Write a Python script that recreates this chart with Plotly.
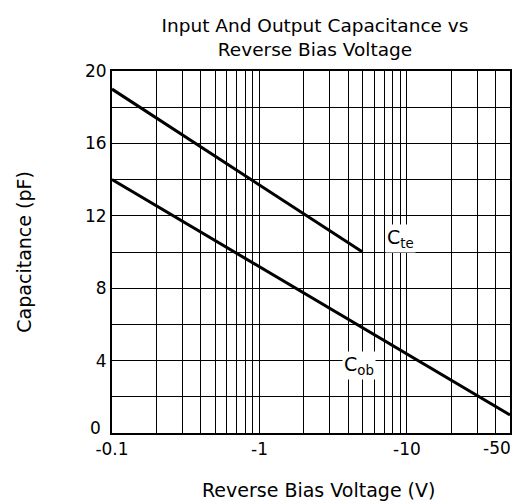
import math
import plotly.graph_objects as go

# ---- data ----
voltage_cte = [0.1, 5]          # |reverse bias| in V
cap_cte = [19, 10]              # pF
voltage_cob = [0.1, 50]
cap_cob = [14, 1]

x_tick_vals = [0.1, 1, 10, 50]
x_tick_text = ["-0.1", "-1", "-10", "-50"]
x_minor_vals = [0.2, 0.3, 0.4, 0.5, 0.6, 0.7, 0.8, 0.9,
                2, 3, 4, 5, 6, 7, 8, 9,
                20, 30, 40]
y_tick_vals = [0, 4, 8, 12, 16, 20]
y_tick_text = ["0", "4", "8", "12", "16", "20"]

FONT = "DejaVu Sans"

fig = go.Figure()
fig.add_trace(go.Scatter(x=voltage_cte, y=cap_cte, mode="lines",
                         line=dict(color="black", width=3), showlegend=False))
fig.add_trace(go.Scatter(x=voltage_cob, y=cap_cob, mode="lines",
                         line=dict(color="black", width=3), showlegend=False))

fig.update_layout(
    width=518, height=504,
    margin=dict(l=112, r=8, t=71, b=71, autoexpand=False),
    paper_bgcolor="white", plot_bgcolor="white",
    font=dict(family=FONT, size=17, color="black"),
    title=dict(text="Input And Output Capacitance vs<br>Reverse Bias Voltage",
               font=dict(family=FONT, size=18.5, color="black"),
               xref="container", x=315 / 518, xanchor="center",
               yref="container", y=1 - 32 / 504, yanchor="top"),
    showlegend=False,
)

# corner labels ("-50" and "0") sit offset from their ticks; drawn separately
fig.update_xaxes(
    type="log", range=[-1.000001, math.log10(50) + 1e-6],
    tickmode="array", tickvals=x_tick_vals,
    ticktext=x_tick_text[:-1] + [""],
    automargin=False,
    showgrid=True, gridcolor="black", gridwidth=1,
    minor=dict(tickvals=x_minor_vals, showgrid=True, gridcolor="black",
               gridwidth=1, ticks=""),
    showline=True, linecolor="black", linewidth=2, mirror=True,
    ticks="", zeroline=False,
    tickfont=dict(family=FONT, size=17, color="black"),
)
fig.update_yaxes(
    range=[0, 20], automargin=False,
    tickmode="array", tickvals=y_tick_vals,
    ticktext=[""] + y_tick_text[1:],
    showgrid=True, gridcolor="black", gridwidth=1,
    minor=dict(dtick=2, tick0=0, showgrid=True, gridcolor="black",
               gridwidth=1, ticks=""),
    showline=True, linecolor="black", linewidth=2, mirror=True,
    ticks="", zeroline=False,
    tickfont=dict(family=FONT, size=17, color="black"),
)

fig.add_annotation(text=x_tick_text[-1], xref="x", yref="paper",
                   x=math.log10(x_tick_vals[-1]), xshift=-13,
                   y=(433 - 448.5) / 362.3,
                   xanchor="center", yanchor="middle", showarrow=False,
                   font=dict(family=FONT, size=17, color="black"))
fig.add_annotation(text=y_tick_text[0], xref="paper", yref="y",
                   x=0, xshift=-9, y=y_tick_vals[0], yshift=5.5,
                   xanchor="right", yanchor="middle", showarrow=False,
                   font=dict(family=FONT, size=17, color="black"))

# axis titles
fig.add_annotation(text="Reverse Bias Voltage (V)", xref="paper", yref="paper",
                   x=(318.5 - 112) / 398, y=(433 - 490) / 362.3,
                   xanchor="center", yanchor="middle", showarrow=False,
                   font=dict(family=FONT, size=19, color="black"))
fig.add_annotation(text="Capacitance (pF)", xref="paper", yref="paper",
                   x=(24 - 112) / 398, y=(433 - 252.5) / 362.3,
                   xanchor="center", yanchor="middle", showarrow=False,
                   textangle=-90,
                   font=dict(family=FONT, size=19, color="black"))

# curve labels
fig.add_annotation(text="C<sub>te</sub>", x=math.log10(9), y=10.75,
                   xref="x", yref="y", showarrow=False, bgcolor="white",
                   font=dict(family=FONT, size=19, color="black"))
fig.add_annotation(text="C<sub>ob</sub>", x=math.log10(4.7), y=3.75,
                   xref="x", yref="y", showarrow=False, bgcolor="white",
                   font=dict(family=FONT, size=19, color="black"))

fig.write_html("out.html",
               config={"displayModeBar": False},
               post_script="document.body.style.margin='0';document.body.style.overflow='hidden';")
